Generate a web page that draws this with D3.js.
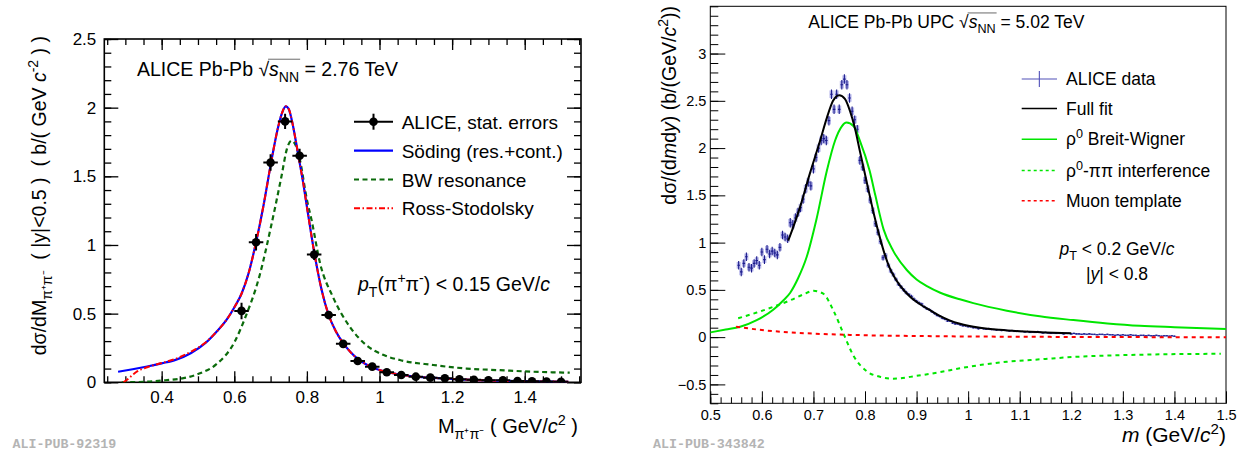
<!DOCTYPE html>
<html><head><meta charset="utf-8">
<script src="https://cdn.jsdelivr.net/npm/d3@7"></script>
<style>
body{margin:0;background:#fff}
svg{display:block}
text{font-family:"Liberation Sans",Arial,Helvetica,sans-serif;white-space:pre}
</style>
</head><body>
<svg id="c" width="1246" height="452"></svg>
<script>
// ================= LEFT PANEL DATA (ALICE Pb-Pb 2.76 TeV) =================
const leftXDomain = [0.242, 1.555];
const leftYDomain = [0, 2.5];
const leftXTicks = [0.4, 0.6, 0.8, 1.0, 1.2, 1.4];
const leftXTickLabels = ["0.4", "0.6", "0.8", "1", "1.2", "1.4"];
const leftYTicks = [0, 0.5, 1.0, 1.5, 2.0, 2.5];
const leftYTickLabels = ["0", "0.5", "1", "1.5", "2", "2.5"];

const leftMass = [0.62,0.66,0.70,0.74,0.78,0.82,0.86,0.90,0.94,0.98,1.02,1.06,1.10,1.14,1.18,1.22,1.26,1.30,1.34,1.38,1.42,1.46,1.50];
const leftXsec = [0.52,1.02,1.60,1.90,1.65,0.93,0.49,0.28,0.155,0.114,0.073,0.053,0.041,0.034,0.029,0.022,0.019,0.015,0.015,0.010,0.008,0.006,0.004];
const leftErr  = [0.06,0.06,0.06,0.055,0.05,0.04,0.03,0.02,0.015,0.012,0.01,0.008,0.007,0.006,0.006,0.005,0.005,0.004,0.004,0.004,0.003,0.003,0.003];
const leftBinHalfWidth = 0.02;

const sodingM = [0.28,0.32,0.36,0.40,0.44,0.48,0.52,0.55,0.58,0.60,0.62,0.64,0.66,0.68,0.70,0.72,0.73,0.742,0.75,0.76,0.77,0.78,0.79,0.80,0.82,0.84,0.86,0.88,0.90,0.92,0.94,0.96,0.98,1.00,1.02,1.06,1.10,1.15,1.20,1.25,1.30,1.35,1.40,1.45,1.52];
const sodingV = [0.077,0.095,0.115,0.138,0.165,0.212,0.285,0.365,0.46,0.545,0.645,0.80,1.02,1.28,1.58,1.85,1.95,2.01,1.99,1.89,1.75,1.60,1.45,1.28,0.95,0.68,0.49,0.37,0.285,0.22,0.17,0.135,0.11,0.09,0.075,0.055,0.042,0.032,0.024,0.018,0.013,0.010,0.008,0.006,0.004];

const rossM = [0.295,0.31,0.33,0.36,0.40,0.44,0.48,0.52,0.55,0.58,0.60,0.62,0.64,0.66,0.68,0.70,0.72,0.73,0.742,0.75,0.76,0.77,0.78,0.79,0.80,0.82,0.84,0.86,0.88,0.90,0.92,0.94,0.96,0.98,1.00,1.02,1.06,1.10,1.15,1.20,1.25,1.30,1.35,1.40,1.45,1.52];
const rossV = [0.0,0.03,0.075,0.11,0.14,0.172,0.222,0.288,0.365,0.46,0.545,0.645,0.80,1.02,1.28,1.58,1.85,1.95,2.01,1.99,1.89,1.75,1.60,1.45,1.28,0.95,0.68,0.49,0.37,0.285,0.22,0.17,0.135,0.11,0.09,0.075,0.055,0.042,0.032,0.024,0.018,0.013,0.010,0.008,0.006,0.004];

const bwLeftM = [0.29,0.35,0.41,0.46,0.50,0.55,0.60,0.63,0.67,0.70,0.73,0.745,0.758,0.77,0.78,0.80,0.813,0.836,0.872,0.918,0.964,1.01,1.056,1.148,1.24,1.332,1.424,1.524];
const bwLeftV = [0.0,0.003,0.015,0.03,0.06,0.13,0.29,0.47,0.78,1.12,1.50,1.70,1.76,1.72,1.63,1.33,1.18,0.87,0.62,0.405,0.27,0.20,0.162,0.126,0.10,0.088,0.077,0.07];

// ================= RIGHT PANEL DATA (ALICE Pb-Pb UPC 5.02 TeV) =================
const rightXDomain = [0.5, 1.5];
const rightYDomain = [-0.7, 3.5];
const rightXTicks = [0.5,0.6,0.7,0.8,0.9,1.0,1.1,1.2,1.3,1.4,1.5];
const rightXTickLabels = ["0.5","0.6","0.7","0.8","0.9","1","1.1","1.2","1.3","1.4","1.5"];
const rightYTicks = [-0.5,0,0.5,1.0,1.5,2.0,2.5,3.0];
const rightYTickLabels = ["\u22120.5","0","0.5","1","1.5","2","2.5","3"];

const rightMass = [
0.555,0.560,0.565,0.570,0.575,0.580,0.585,0.590,0.595,0.600,
0.605,0.610,0.615,0.620,0.625,0.630,0.635,0.640,0.645,0.650,
0.655,0.660,0.665,0.670,0.675,0.680,0.685,0.690,0.695,0.700,
0.705,0.710,0.715,0.720,0.725,0.730,0.735,0.740,0.745,0.750,
0.755,0.760,0.765,0.770,0.775,0.780,0.785,0.790,0.795,0.800,
0.805,0.810,0.815,0.820,0.825,0.830,0.835,0.840,0.845,0.850,
0.855,0.860,0.865,0.870,0.875,0.880,0.885,0.890,0.895,0.900,
0.905,0.910,0.915,0.920,0.925,0.930,0.935,0.940,0.945,0.950,
0.955,0.960,0.965,0.970,0.975,0.980,0.985,0.990,0.995,1.000,
1.005,1.010,1.015,1.020,1.025,1.030,1.035,1.040,1.045,1.050,
1.055,1.060,1.065,1.070,1.075,1.080,1.085,1.090,1.095,1.100,
1.105,1.110,1.115,1.120,1.125,1.130,1.135,1.140,1.145,1.150,
1.155,1.160,1.165,1.170,1.175,1.180,1.185,1.190,1.195,1.200,
1.205,1.210,1.215,1.220,1.225,1.230,1.235,1.240,1.245,1.250,
1.255,1.260,1.265,1.270,1.275,1.280,1.285,1.290,1.295,1.300,
1.305,1.310,1.315,1.320,1.325,1.330,1.335,1.340,1.345,1.350,
1.355,1.360,1.365,1.370,1.375,1.380,1.385,1.390,1.395,1.400];
const rightXsec = [
0.76,0.69,0.78,0.85,0.74,0.73,0.78,0.81,0.76,0.90,
0.82,0.93,0.88,0.91,0.89,0.87,0.95,1.08,1.06,1.04,
1.21,1.19,1.26,1.32,1.37,1.46,1.57,1.64,1.60,1.78,
1.90,2.00,2.08,2.10,2.08,2.29,2.57,2.41,2.57,2.41,
2.67,2.73,2.67,2.53,2.39,2.30,2.20,1.87,1.80,1.66,
1.57,1.45,1.34,1.20,1.11,1.01,0.84,0.86,0.76,0.70,
0.66,0.61,0.56,0.53,0.50,0.47,0.45,0.43,0.40,0.38,
0.36,0.35,0.32,0.30,0.29,0.27,0.25,0.23,0.22,0.20,
0.19,0.17,0.17,0.15,0.14,0.14,0.13,0.12,0.12,0.11,
0.11,0.10,0.10,0.09,0.095,0.09,0.085,0.09,0.08,0.08,
0.075,0.08,0.07,0.075,0.07,0.065,0.07,0.06,0.065,0.06,
0.06,0.055,0.06,0.05,0.055,0.05,0.06,0.05,0.045,0.05,
0.045,0.04,0.045,0.04,0.045,0.04,0.035,0.04,0.04,0.035,
0.04,0.035,0.035,0.03,0.035,0.03,0.035,0.03,0.03,0.025,
0.03,0.03,0.025,0.03,0.025,0.025,0.02,0.025,0.02,0.025,
0.02,0.02,0.025,0.02,0.02,0.015,0.02,0.02,0.015,0.02,
0.015,0.015,0.02,0.015,0.01,0.015,0.015,0.01,0.015,0.01];
const rightStat = [
0.045,0.045,0.045,0.045,0.045,0.045,0.045,0.045,0.045,0.045,
0.045,0.045,0.045,0.045,0.045,0.045,0.045,0.045,0.045,0.045,
0.05,0.05,0.05,0.05,0.05,0.05,0.05,0.05,0.05,0.05,
0.05,0.05,0.05,0.05,0.05,0.05,0.05,0.05,0.05,0.05,
0.05,0.05,0.05,0.05,0.05,0.045,0.045,0.045,0.04,0.04,
0.04,0.04,0.035,0.035,0.035,0.03,0.03,0.03,0.025,0.025,
0.025,0.02,0.02,0.02,0.02,0.02,0.018,0.018,0.018,0.016,
0.016,0.015,0.015,0.014,0.014,0.013,0.013,0.012,0.012,0.011,
0.011,0.01,0.01,0.01,0.01,0.009,0.009,0.009,0.009,0.008,
0.008,0.008,0.008,0.008,0.008,0.008,0.008,0.008,0.008,0.008,
0.007,0.007,0.007,0.007,0.007,0.007,0.007,0.007,0.007,0.007,
0.007,0.007,0.007,0.007,0.007,0.007,0.007,0.007,0.007,0.007,
0.006,0.006,0.006,0.006,0.006,0.006,0.006,0.006,0.006,0.006,
0.006,0.006,0.006,0.006,0.006,0.006,0.006,0.006,0.006,0.006,
0.006,0.006,0.006,0.006,0.006,0.006,0.006,0.006,0.006,0.006,
0.006,0.006,0.006,0.006,0.006,0.006,0.006,0.006,0.006,0.006,
0.006,0.006,0.006,0.006,0.006,0.006,0.006,0.006,0.006,0.006];
const rightSys = [
0.035,0.035,0.035,0.035,0.035,0.035,0.035,0.035,0.035,0.035,
0.035,0.035,0.035,0.035,0.035,0.035,0.035,0.035,0.035,0.035,
0.04,0.04,0.04,0.04,0.04,0.04,0.04,0.04,0.04,0.04,
0.04,0.04,0.04,0.04,0.04,0.04,0.04,0.04,0.04,0.04,
0.04,0.04,0.04,0.04,0.04,0.04,0.04,0.035,0.035,0.035,
0.035,0.03,0.03,0.03,0.03,0.025,0.025,0.025,0.02,0.02,
0.02,0.018,0.018,0.016,0.016,0.015,0.014,0.014,0.013,0.013,
0.012,0.012,0.011,0.011,0.01,0.01,0.01,0.009,0.009,0.009,
0.008,0.008,0.008,0.007,0.007,0.007,0.007,0.006,0.006,0.006,
0.006,0.006,0.006,0.005,0.005,0.005,0.005,0.005,0.005,0.005,
0.005,0.005,0.005,0.005,0.005,0.005,0.005,0.005,0.005,0.005,
0.004,0.004,0.004,0.004,0.004,0.004,0.004,0.004,0.004,0.004,
0.004,0.004,0.004,0.004,0.004,0.004,0.004,0.004,0.004,0.004,
0.004,0.004,0.004,0.004,0.004,0.004,0.004,0.004,0.004,0.004,
0.004,0.004,0.004,0.004,0.004,0.004,0.004,0.004,0.004,0.004,
0.004,0.004,0.004,0.004,0.004,0.004,0.004,0.004,0.004,0.004,
0.004,0.004,0.004,0.004,0.004,0.004,0.004,0.004,0.004,0.004];
const rightBinHalfWidth = 0.0025;

const fullFitM = [0.651,0.66,0.674,0.693,0.713,0.726,0.738,0.75,0.761,0.771,0.78,0.79,0.803,0.816,0.829,0.838,0.848,0.858,0.868,0.887,0.906,0.926,0.945,0.964,0.984,1.023,1.061,1.10,1.15,1.20];
const fullFitV = [1.02,1.15,1.375,1.73,2.08,2.32,2.50,2.56,2.52,2.39,2.22,1.97,1.65,1.33,1.05,0.88,0.73,0.625,0.545,0.43,0.35,0.285,0.225,0.178,0.142,0.10,0.077,0.062,0.05,0.042];

const bwRightM = [0.50,0.53,0.558,0.59,0.622,0.64,0.655,0.67,0.687,0.706,0.726,0.742,0.755,0.764,0.778,0.79,0.809,0.82,0.836,0.855,0.881,0.90,0.92,0.946,0.984,1.01,1.075,1.139,1.204,1.27,1.333,1.40,1.50];
const bwRightV = [0.05,0.08,0.11,0.18,0.29,0.38,0.47,0.62,0.85,1.25,1.76,2.08,2.23,2.27,2.23,2.08,1.76,1.50,1.14,0.91,0.71,0.61,0.54,0.47,0.40,0.36,0.28,0.22,0.18,0.145,0.12,0.105,0.086];

const interfM = [0.554,0.59,0.622,0.655,0.68,0.70,0.719,0.738,0.758,0.778,0.803,0.829,0.855,0.90,0.946,0.984,1.03,1.075,1.139,1.204,1.333,1.49];
const interfV = [0.20,0.26,0.32,0.39,0.45,0.49,0.46,0.29,0.04,-0.20,-0.36,-0.42,-0.44,-0.41,-0.37,-0.33,-0.29,-0.26,-0.235,-0.21,-0.186,-0.176];

const muonM = [0.55,0.60,0.65,0.70,0.75,0.80,0.90,1.00,1.10,1.20,1.35,1.50];
const muonV = [0.11,0.075,0.052,0.037,0.027,0.02,0.012,0.007,0.004,0.002,0.0,-0.002];

// ================= DRAWING =================
const svg = d3.select("#c");
svg.append("rect").attr("width",1246).attr("height",452).attr("fill","#fff");

function rich(parent, x, y, parts, o) {
  const size = o.size;
  const g = parent.append("g").attr("transform", `translate(${x},${y})` + (o.rotate ? ` rotate(${o.rotate})` : ""));
  const text = g.append("text").attr("font-size", size).attr("text-anchor", o.anchor || "start").attr("fill", o.fill || "#000");
  let off = 0;
  const spans = [];
  parts.forEach(p => {
    if (typeof p === "string") p = {t: p};
    let target = 0, fs = size;
    if (p.sub) { target = 0.30 * size; fs = 0.72 * size; }
    if (p.sup) { target = -0.40 * size; fs = 0.72 * size; }
    const ts = text.append("tspan").attr("dy", target - off).attr("font-size", fs).text(p.t);
    if (p.i) ts.attr("font-style", "italic");
    off = target;
    spans.push({node: ts.node(), p});
  });
  const s = spans.findIndex(d => d.p.olStart), e = spans.findIndex(d => d.p.olEnd);
  if (s >= 0 && e >= 0) {
    const n1 = spans[s].node, n2 = spans[e].node;
    const x1 = n1.getStartPositionOfChar(0).x;
    const x2 = n2.getEndPositionOfChar(n2.getNumberOfChars() - 1).x;
    g.append("line").attr("x1", x1 - 1).attr("x2", x2 + 1).attr("y1", -0.86 * size).attr("y2", -0.86 * size)
      .attr("stroke", "#444").attr("stroke-width", 0.8);
  }
  return g;
}

function drawAxis(g, axis, tx, ty, fontSize, width) {
  const a = g.append("g").attr("transform", `translate(${tx},${ty})`).call(axis);
  a.select(".domain").remove();
  a.selectAll("line").attr("stroke", "#000").attr("stroke-width", width || 1);
  a.selectAll("text").attr("font-size", fontSize).attr("fill", "#000");
  return a;
}

// ---------- LEFT PANEL ----------
const L = {x0: 104.3, x1: 581, y0: 39, y1: 382.3};
const xL = d3.scaleLinear().domain(leftXDomain).range([L.x0, L.x1]);
const yL = d3.scaleLinear().domain(leftYDomain).range([L.y1, L.y0]);
const gL = svg.append("g");

svg.append("clipPath").attr("id", "clipL").append("rect").attr("x", L.x0).attr("y", L.y0).attr("width", L.x1 - L.x0).attr("height", L.y1 - L.y0);
svg.append("clipPath").attr("id", "clipR").append("rect").attr("x", 710.3).attr("y", 6.3).attr("width", 1226 - 710.3).attr("height", 403.3 - 6.3);

const leftMinorX = d3.range(0.25, 1.551, 0.05);
const leftMinorY = d3.range(0, 2.501, 0.1);
drawAxis(gL, d3.axisBottom(xL).tickValues(leftXTicks).tickFormat((d,i)=>leftXTickLabels[i]).tickSizeInner(-11).tickSizeOuter(0).tickPadding(9), 0, L.y1, 17, 1.3);
drawAxis(gL, d3.axisBottom(xL).tickValues(leftMinorX).tickFormat("").tickSizeInner(-6).tickSizeOuter(0), 0, L.y1, 17, 1.3);
drawAxis(gL, d3.axisTop(xL).tickValues(leftXTicks).tickFormat("").tickSizeInner(-11).tickSizeOuter(0), 0, L.y0, 17, 1.3);
drawAxis(gL, d3.axisTop(xL).tickValues(leftMinorX).tickFormat("").tickSizeInner(-6).tickSizeOuter(0), 0, L.y0, 17, 1.3);
drawAxis(gL, d3.axisLeft(yL).tickValues(leftYTicks).tickFormat((d,i)=>leftYTickLabels[i]).tickSizeInner(-14).tickSizeOuter(0).tickPadding(8), L.x0, 0, 17, 1.3);
drawAxis(gL, d3.axisLeft(yL).tickValues(leftMinorY).tickFormat("").tickSizeInner(-7).tickSizeOuter(0), L.x0, 0, 17, 1.3);
drawAxis(gL, d3.axisRight(yL).tickValues(leftYTicks).tickFormat("").tickSizeInner(-14).tickSizeOuter(0), L.x1, 0, 17, 1.3);
drawAxis(gL, d3.axisRight(yL).tickValues(leftMinorY).tickFormat("").tickSizeInner(-7).tickSizeOuter(0), L.x1, 0, 17, 1.3);

gL.append("rect").attr("x", L.x0).attr("y", L.y0).attr("width", L.x1 - L.x0).attr("height", L.y1 - L.y0)
  .attr("fill", "none").attr("stroke", "#000").attr("stroke-width", 1.6);

const lineL = d3.line().x(d => xL(d[0])).y(d => yL(d[1])).curve(d3.curveMonotoneX);
const cL = gL.append("g").attr("clip-path", "url(#clipL)");
cL.append("path").attr("d", lineL(d3.zip(bwLeftM, bwLeftV))).attr("fill", "none").attr("stroke", "#0b6b0b").attr("stroke-width", 2.2).attr("stroke-dasharray", "5,3.5");
cL.append("path").attr("d", lineL(d3.zip(sodingM, sodingV))).attr("fill", "none").attr("stroke", "#0000ff").attr("stroke-width", 2.2);
cL.append("path").attr("d", lineL(d3.zip(rossM, rossV))).attr("fill", "none").attr("stroke", "#ff0000").attr("stroke-width", 2).attr("stroke-dasharray", "6,2.5,1.5,2.5");

const ptsL = cL.append("g");
leftMass.forEach((m, i) => {
  const v = leftXsec[i], e = leftErr[i];
  ptsL.append("line").attr("x1", xL(m - leftBinHalfWidth)).attr("x2", xL(m + leftBinHalfWidth)).attr("y1", yL(v)).attr("y2", yL(v)).attr("stroke", "#000").attr("stroke-width", 2);
  ptsL.append("line").attr("x1", xL(m)).attr("x2", xL(m)).attr("y1", yL(v - e)).attr("y2", yL(v + e)).attr("stroke", "#000").attr("stroke-width", 2);
  ptsL.append("circle").attr("cx", xL(m)).attr("cy", yL(v)).attr("r", 4.3).attr("fill", "#000");
});

rich(gL, 137, 76, ["ALICE Pb-Pb ", {t: "\u221A"}, {t: "s", i: 1, olStart: 1}, {t: "NN", sub: 1, olEnd: 1}, " = 2.76 TeV"], {size: 19.5});
const legL = gL.append("g");
const llx0 = 354, llx1 = 393, ltx = 401.7;
const lrows = [121.7, 150.7, 179.5, 208.3];
legL.append("line").attr("x1", llx0).attr("x2", llx1).attr("y1", lrows[0]).attr("y2", lrows[0]).attr("stroke", "#000").attr("stroke-width", 2);
legL.append("line").attr("x1", (llx0+llx1)/2).attr("x2", (llx0+llx1)/2).attr("y1", lrows[0]-8).attr("y2", lrows[0]+8).attr("stroke", "#000").attr("stroke-width", 2);
legL.append("circle").attr("cx", (llx0+llx1)/2).attr("cy", lrows[0]).attr("r", 4.3).attr("fill", "#000");
legL.append("line").attr("x1", llx0).attr("x2", llx1).attr("y1", lrows[1]).attr("y2", lrows[1]).attr("stroke", "#0000ff").attr("stroke-width", 2.2);
legL.append("line").attr("x1", llx0).attr("x2", llx1).attr("y1", lrows[2]).attr("y2", lrows[2]).attr("stroke", "#0b6b0b").attr("stroke-width", 2.2).attr("stroke-dasharray", "5,3.5");
legL.append("line").attr("x1", llx0).attr("x2", llx1).attr("y1", lrows[3]).attr("y2", lrows[3]).attr("stroke", "#ff0000").attr("stroke-width", 2).attr("stroke-dasharray", "6,2.5,1.5,2.5");
const legLabelsL = ["ALICE, stat. errors", "S\u00F6ding (res.+cont.)", "BW resonance", "Ross-Stodolsky"];
legLabelsL.forEach((t, i) => rich(legL, ltx, lrows[i] + 7, [t], {size: 19}));

rich(gL, 358, 291, [{t: "p", i: 1}, {t: "T", sub: 1}, "(\u03C0", {t: "+", sup: 1}, "\u03C0", {t: "-", sup: 1}, ") < 0.15 GeV/", {t: "c", i: 1}], {size: 19.5});

rich(gL, 578, 433, ["M", {t: "\u03C0\u207A\u03C0\u207B", sub: 1}, " ( GeV/", {t: "c", i: 1}, {t: "2", sup: 1}, " )"], {size: 20, anchor: "end"});
rich(gL, 46, 36, ["d\u03C3/dM", {t: "\u03C0\u207A\u03C0\u207B", sub: 1}, "  ( |y|<0.5 )  ( b/( GeV ", {t: "c", i: 1}, {t: "-2", sup: 1}, " ) )"], {size: 19.5, anchor: "end", rotate: -90});

svg.append("text").attr("x", 12.5).attr("y", 447.5).style("font-family", '"Liberation Mono","DejaVu Sans Mono",monospace').style("font-weight", "bold").attr("font-size", 13.3).attr("fill", "#b4b4b4").text("ALI-PUB-92319");

// ---------- RIGHT PANEL ----------
const R = {x0: 710.3, x1: 1226, y0: 6.3, y1: 403.3};
const xR = d3.scaleLinear().domain(rightXDomain).range([R.x0, R.x1]);
const yR = d3.scaleLinear().domain(rightYDomain).range([R.y1, R.y0]);
const gR = svg.append("g");

const rightMinorX = d3.range(0.5, 1.5001, 0.02);
const rightMinorY = d3.range(-0.7, 3.5001, 0.1);
drawAxis(gR, d3.axisBottom(xR).tickValues(rightXTicks).tickFormat((d,i)=>rightXTickLabels[i]).tickSizeInner(-12).tickSizeOuter(0).tickPadding(6.5), 0, R.y1, 14.5, 1);
drawAxis(gR, d3.axisBottom(xR).tickValues(rightMinorX).tickFormat("").tickSizeInner(-6).tickSizeOuter(0), 0, R.y1, 14.5, 1);
drawAxis(gR, d3.axisLeft(yR).tickValues(rightYTicks).tickFormat((d,i)=>rightYTickLabels[i]).tickSizeInner(-15).tickSizeOuter(0).tickPadding(4), R.x0, 0, 14.5, 1);
drawAxis(gR, d3.axisLeft(yR).tickValues(rightMinorY).tickFormat("").tickSizeInner(-8).tickSizeOuter(0), R.x0, 0, 14.5, 1);
gR.append("rect").attr("x", R.x0).attr("y", R.y0).attr("width", R.x1 - R.x0).attr("height", R.y1 - R.y0)
  .attr("fill", "none").attr("stroke", "#000").attr("stroke-width", 1);

const lineR = d3.line().x(d => xR(d[0])).y(d => yR(d[1])).curve(d3.curveMonotoneX);
const cR = gR.append("g").attr("clip-path", "url(#clipR)");
const ptsR = cR.append("g");
rightMass.forEach((m, i) => {
  const v = rightXsec[i], s = rightSys[i];
  ptsR.append("rect").attr("x", xR(m) - 2).attr("width", 4).attr("y", yR(v + s)).attr("height", Math.max(yR(v - s) - yR(v + s), 1.2))
    .attr("fill", "#6f6fd6").attr("fill-opacity", 0.5);
});
rightMass.forEach((m, i) => {
  const v = rightXsec[i], e = rightStat[i];
  ptsR.append("line").attr("x1", xR(m - rightBinHalfWidth)).attr("x2", xR(m + rightBinHalfWidth)).attr("y1", yR(v)).attr("y2", yR(v)).attr("stroke", "#1c1c8c").attr("stroke-width", 1.1);
  ptsR.append("line").attr("x1", xR(m)).attr("x2", xR(m)).attr("y1", yR(v - e)).attr("y2", yR(v + e)).attr("stroke", "#1c1c8c").attr("stroke-width", 1.1);
});
cR.append("path").attr("d", lineR(d3.zip(bwRightM, bwRightV))).attr("fill", "none").attr("stroke", "#00e600").attr("stroke-width", 2);
cR.append("path").attr("d", lineR(d3.zip(interfM, interfV))).attr("fill", "none").attr("stroke", "#00e600").attr("stroke-width", 2).attr("stroke-dasharray", "4,4");
cR.append("path").attr("d", lineR(d3.zip(muonM, muonV))).attr("fill", "none").attr("stroke", "#ff0000").attr("stroke-width", 2).attr("stroke-dasharray", "4,4");
cR.append("path").attr("d", lineR(d3.zip(fullFitM, fullFitV))).attr("fill", "none").attr("stroke", "#000").attr("stroke-width", 2);

rich(gR, 808.3, 28, ["ALICE Pb-Pb UPC ", {t: "\u221A"}, {t: "s", i: 1, olStart: 1}, {t: "NN", sub: 1, olEnd: 1}, " = 5.02 TeV"], {size: 17.5});

const legR = gR.append("g");
const rlx0 = 1021.7, rlx1 = 1057, rtx = 1066;
const rrows = [79, 108.5, 139.3, 170.5, 200.7];
legR.append("line").attr("x1", rlx0).attr("x2", rlx1).attr("y1", rrows[0]).attr("y2", rrows[0]).attr("stroke", "#5050b8").attr("stroke-width", 1.1);
legR.append("line").attr("x1", (rlx0+rlx1)/2).attr("x2", (rlx0+rlx1)/2).attr("y1", rrows[0]-8).attr("y2", rrows[0]+8).attr("stroke", "#5050b8").attr("stroke-width", 1.1);
legR.append("line").attr("x1", rlx0).attr("x2", rlx1).attr("y1", rrows[1]).attr("y2", rrows[1]).attr("stroke", "#000").attr("stroke-width", 1.5);
legR.append("line").attr("x1", rlx0).attr("x2", rlx1).attr("y1", rrows[2]).attr("y2", rrows[2]).attr("stroke", "#00e600").attr("stroke-width", 1.5);
legR.append("line").attr("x1", rlx0).attr("x2", rlx1).attr("y1", rrows[3]).attr("y2", rrows[3]).attr("stroke", "#00e600").attr("stroke-width", 1.5).attr("stroke-dasharray", "3,3");
legR.append("line").attr("x1", rlx0).attr("x2", rlx1).attr("y1", rrows[4]).attr("y2", rrows[4]).attr("stroke", "#ff0000").attr("stroke-width", 1.5).attr("stroke-dasharray", "3,3");
const legLabelsR = [
  ["ALICE data"],
  ["Full fit"],
  ["\u03C1", {t: "0", sup: 1}, " Breit-Wigner"],
  ["\u03C1", {t: "0", sup: 1}, "-\u03C0\u03C0 interference"],
  ["Muon template"]
];
legLabelsR.forEach((p, i) => rich(legR, rtx, rrows[i] + 6, p, {size: 17.5}));

rich(gR, 1117, 255, [{t: "p", i: 1}, {t: "T", sub: 1}, " < 0.2 GeV/", {t: "c", i: 1}], {size: 17.5, anchor: "middle"});
rich(gR, 1117, 280, ["|", {t: "y", i: 1}, "| < 0.8"], {size: 17.5, anchor: "middle"});

rich(gR, 1226, 442, [{t: "m", i: 1}, " (GeV/", {t: "c", i: 1}, {t: "2", sup: 1}, ")"], {size: 21, anchor: "end"});
rich(gR, 676, 6, ["d\u03C3/(d", {t: "m", i: 1}, "d", {t: "y", i: 1}, ") (b/(GeV/", {t: "c", i: 1}, {t: "2", sup: 1}, "))"], {size: 19.5, anchor: "end", rotate: -90});

svg.append("text").attr("x", 653).attr("y", 447.5).style("font-family", '"Liberation Mono","DejaVu Sans Mono",monospace').style("font-weight", "bold").attr("font-size", 13.3).attr("fill", "#b4b4b4").text("ALI-PUB-343842");
</script>
</body></html>
